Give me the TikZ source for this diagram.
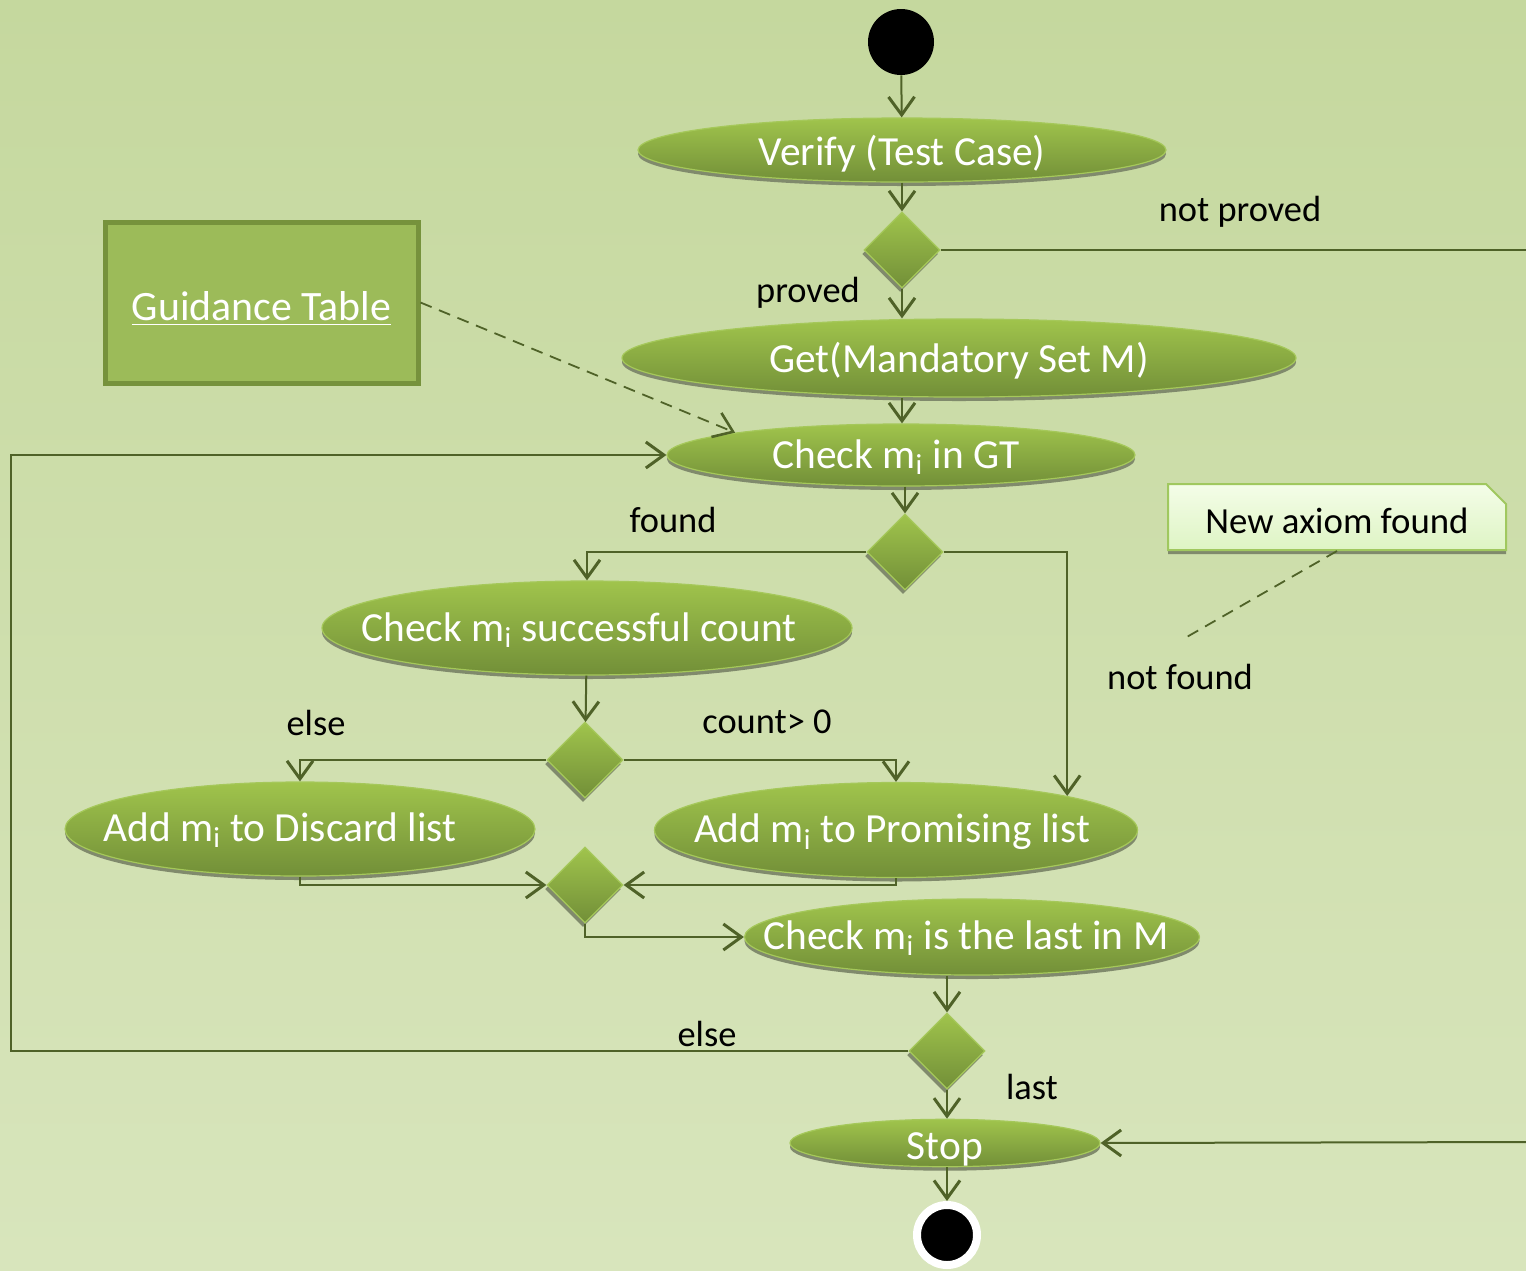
\documentclass[tikz,border=0pt]{standalone}
\usepackage{fontspec}
\setmainfont{Carlito}
\usetikzlibrary{arrows.meta,shapes.geometric,shapes.misc,shadows}

\definecolor{bgtop}{RGB}{197,216,158}
\definecolor{bgbot}{RGB}{216,229,188}
\definecolor{linec}{RGB}{79,98,40}
\definecolor{acttop}{RGB}{160,196,76}
\definecolor{actbot}{RGB}{114,143,56}
\definecolor{actedge}{RGB}{165,200,90}
\definecolor{shadowc}{RGB}{128,138,108}
\definecolor{gtfill}{RGB}{156,187,89}
\definecolor{gtedge}{RGB}{118,146,60}
\definecolor{notetop}{RGB}{244,253,232}
\definecolor{notebot}{RGB}{222,244,196}
\definecolor{noteedge}{RGB}{160,200,95}

% activity text that does not widen its ellipse; #1 = shift to the left (x2), #3 = drop
\newcommand{\acttext}[3][0pt]{\makebox[0pt][c]{\raisebox{#3}[\height][\depth]{#2}\hspace*{#1}}}

\begin{document}
\begin{tikzpicture}[x=0.5pt,y=-0.5pt,
  act/.style={ellipse, inner sep=0pt, top color=acttop, bottom color=actbot,
    draw=actedge, line width=0.6pt, text=white,
    font=\fontsize{20.7}{24}\selectfont,
    drop shadow={shadow xshift=0pt, shadow yshift=-2pt, fill=shadowc, opacity=1}},
  dec/.style={diamond, aspect=1, minimum width=38pt, minimum height=38pt,
    inner sep=0pt, top color=acttop, bottom color=actbot, draw=actedge,
    line width=0.6pt,
    drop shadow={shadow xshift=-1pt, shadow yshift=-2pt, fill=shadowc, opacity=1}},
  flow/.style={draw=linec, line width=1pt},
  arr/.style={flow, -{Straight Barb[length=9pt,width=13pt,line width=1.5pt]}},
  lbl/.style={text=black, font=\fontsize{18.2}{22}\selectfont, inner sep=0pt},
  notelink/.style={draw=linec, line width=0.9pt, dash pattern=on 6pt off 4pt}
]
% background
\shade[top color=bgtop, bottom color=bgbot] (0,0) rectangle (1526,1270);
\useasboundingbox (0,0) rectangle (1526,1270);

% initial and final states
\node[circle, fill=black, minimum size=33pt, inner sep=0pt] (start) at (901,42) {};
\node[circle, fill=black, draw=white, line width=4pt, minimum size=30pt, inner sep=0pt,
  drop shadow={shadow xshift=0.5pt, shadow yshift=-0.8pt, fill=shadowc, opacity=0.6}] (end) at (947,1235) {};

% activities
\node[act, minimum width=264pt, minimum height=32pt] (verify) at (902,150) {\acttext{Verify (Test Case)}{-2pt}};
\node[act, minimum width=337pt, minimum height=39pt] (getM) at (959,358) {\acttext{Get(Mandatory Set M)}{-1.5pt}};
\node[act, minimum width=234pt, minimum height=31pt] (checkGT) at (901,455) {\acttext[5pt]{Check m\textsubscript{i} in GT}{-1pt}};
\node[act, minimum width=265pt, minimum height=47pt] (cnt) at (587,628) {\acttext[8pt]{Check m\textsubscript{i} successful count}{-1pt}};
\node[act, minimum width=235pt, minimum height=47pt] (disc) at (300,829) {\acttext[20pt]{Add m\textsubscript{i} to Discard list}{-0.5pt}};
\node[act, minimum width=241.5pt, minimum height=47.5pt] (prom) at (896,830) {\acttext[4pt]{Add m\textsubscript{i} to Promising list}{-1pt}};
\node[act, minimum width=227.5pt, minimum height=38pt] (last) at (972,937) {\acttext[6pt]{Check m\textsubscript{i} is the last in M}{-0.5pt}};
\node[act, minimum width=155pt, minimum height=23pt] (stop) at (945,1143) {\acttext{Stop}{-3pt}};

% decisions
\node[dec] (d1) at (902,250) {};
\node[dec] (d2) at (905,552) {};
\node[dec] (d3) at (585,760) {};
\node[dec] (d4) at (585,885) {};
\node[dec] (d5) at (947,1051) {};

% object and note
\node[rectangle, fill=gtfill, draw=gtedge, line width=2.5pt, minimum width=156.5pt,
  minimum height=80.5pt, text=white, font=\fontsize{20.9}{24}\selectfont] (gt) at (261.5,302.5) {\raisebox{-3pt}[\height][\depth]{\underline{Guidance Table}}};
\node[chamfered rectangle, chamfered rectangle corners=north east, chamfered rectangle xsep=5pt,
  chamfered rectangle ysep=5pt, top color=notetop, bottom color=notebot, draw=noteedge,
  line width=1pt, minimum width=169pt, minimum height=33pt, inner sep=0pt,
  font=\fontsize{18.4}{22}\selectfont,
  drop shadow={shadow xshift=0pt, shadow yshift=-2pt, fill=shadowc, opacity=1}] (axiom) at (1337,517) {\raisebox{-2pt}[\height][\depth]{New axiom found}};

% labels
\node[lbl] (lnp) at (1240,212) {not proved};
\node[lbl] (lpr) at (808,293) {proved};
\node[lbl] (lfo) at (673,520) {found};
\node[lbl] (lnf) at (1180,677) {not found};
\node[lbl] (lel1) at (316,723) {else};
\node[lbl] (lcnt) at (767,722) {count> 0};
\node[lbl] (lel2) at (707,1034) {else};
\node[lbl] (lla) at (1032,1087) {last};

% free ends
\coordinate (np1) at (1526,250);
\coordinate (np2) at (1526,1142);
\coordinate (loopc) at (11,1051);
\coordinate (nfc) at (1185,638);

% flows
\draw[arr] (start) -- (verify);
\draw[arr] (verify) -- (d1);
\draw[arr] (d1) -- (getM.north -| d1);
\draw[flow] (d1.east) -- (np1);
\draw[arr] (np2) -- (stop.east);
\draw[arr] (getM.south -| d1) -- (checkGT.north -| d1);
\draw[arr] (checkGT.south -| d2) -- (d2);
\draw[arr] (d2.west) -| (cnt.north);
\draw[arr] (d2.east) -| (prom.north east);
\draw[arr] (cnt) -- (d3);
\draw[arr] (d3.west) -| (disc.north);
\draw[arr] (d3.east) -| (prom.north);
\draw[arr] (disc.south) |- (d4.west);
\draw[arr] (prom.south) |- (d4.east);
\draw[arr] (d4.south) |- (last.west);
\draw[arr] (d5.north |- last.south) -- (d5.north);
\draw[arr] (d5.west) -- (loopc) |- (checkGT.west);
\draw[arr] (d5) -- (stop.north -| d5);
\draw[arr] (stop.south -| end) -- (end);

% dependency and note links
\draw[notelink, -{Straight Barb[length=9pt,width=13pt,line width=1.3pt]}] (gt.east) -- (checkGT.north west);
\draw[notelink] (axiom.south) -- (nfc);
\end{tikzpicture}
\end{document}
